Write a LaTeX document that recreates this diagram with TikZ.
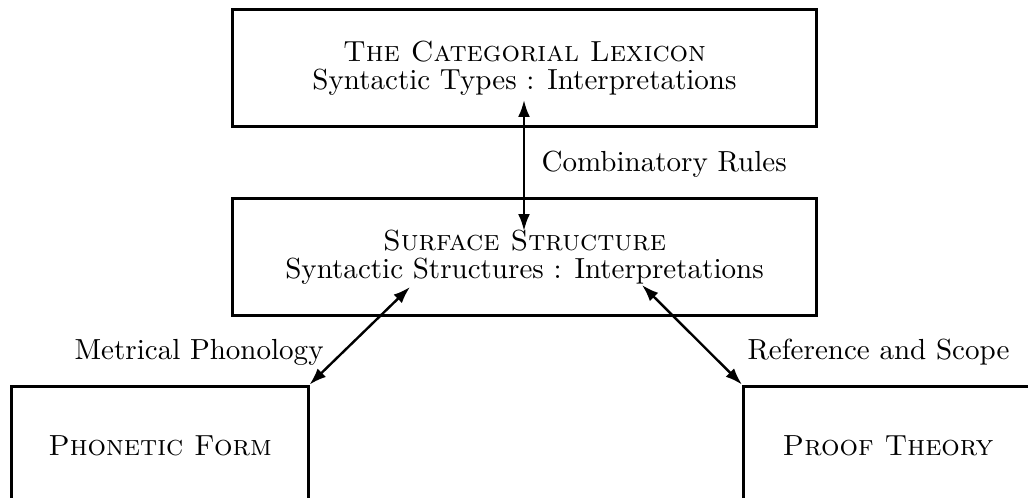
\documentclass[tikz,border=0pt]{standalone}
\usetikzlibrary{arrows.meta}
\begin{document}
\begin{tikzpicture}[x=0.3546pt,y=-0.3546pt,
  box/.style={draw,line width=1.05pt,inner sep=0pt,align=center,
    font=\fontsize{10.3}{9.8}\selectfont},
  lbl/.style={font=\fontsize{10.3}{12}\selectfont,inner sep=0pt},
  link/.style={line width=0.85pt,
    {Latex[length=6pt,width=4.2pt]}-{Latex[length=6pt,width=4.2pt]}}]
\useasboundingbox (0,0) rectangle (1028,498);
\clip (0,0) rectangle (1028,498);
% boxes
\node[box,minimum width=207.4pt,minimum height=41.8pt] (lex) at (524.5,68)
  {\textsc{The Categorial Lexicon}\\Syntactic Types : Interpretations};
\node[box,minimum width=207.4pt,minimum height=41.8pt] (surf) at (524.5,257)
  {\textsc{Surface Structure}\\Syntactic Structures : Interpretations};
\node[box,minimum width=105pt,minimum height=42.5pt] (pf) at (160,446)
  {\textsc{Phonetic Form}};
\node[box,minimum width=102.5pt,minimum height=42.5pt] (pt) at (888,446)
  {\textsc{Proof Theory}};
% arrow end points inside boxes
\coordinate (v1) at (524,100);
\coordinate (v2) at (524,231);
\coordinate (l1) at (410,287);
\coordinate (r1) at (642,285);
% connectors
\draw[link] (v1) -- (v2);
\draw[link] (l1) -- (pf.north east);
\draw[link] (r1) -- (pt.north west);
% labels
\node[lbl,anchor=base west] (comb) at (541,172) {Combinatory Rules};
\node[lbl,anchor=base west] (metr) at (74,360) {Metrical Phonology};
\node[lbl,anchor=base west] (refs) at (747,360) {Reference and Scope};
\end{tikzpicture}
\end{document}
